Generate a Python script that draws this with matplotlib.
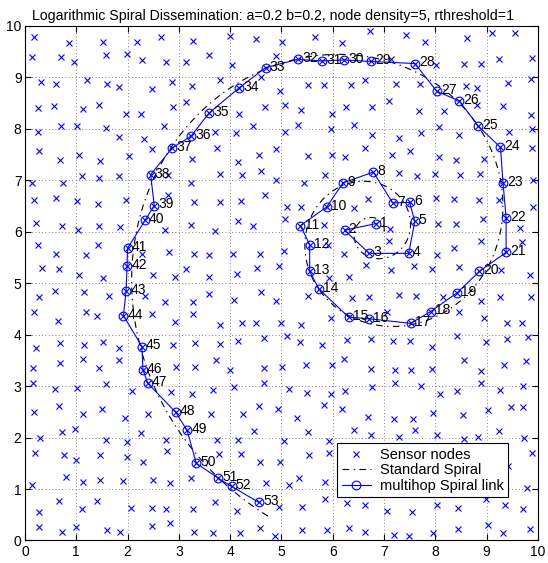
import numpy as np
import matplotlib
matplotlib.use("Agg")
import matplotlib.pyplot as plt

plt.rcParams['font.family'] = ['Liberation Sans', 'DejaVu Sans']

# Parametros de la espiral
a = 0.2
b = 0.2
centro = (6.8, 6.0)
theta_fin = 16.93

# Nodos sensores (x, y)
sensores = np.array([
    (0.17, 9.79), (0.85, 9.66), (1.53, 9.68), (2.19, 9.69), (2.65, 9.78), (3.27, 9.71),
    (0.13, 9.39), (0.71, 9.40), (0.95, 9.29), (1.57, 9.43), (1.98, 9.45), (2.29, 9.34), (2.74, 9.29), (3.14, 9.29),
    (0.32, 8.92), (0.61, 8.88), (1.21, 8.95), (1.60, 8.87), (1.84, 8.82), (2.48, 8.77), (2.86, 8.92), (3.26, 8.83),
    (0.26, 8.41), (0.56, 8.45), (1.13, 8.38), (1.44, 8.46), (1.97, 8.28), (2.27, 8.28), (2.88, 8.42), (3.14, 8.53),
    (0.26, 7.94), (0.71, 8.05), (1.02, 8.06), (1.58, 8.01), (1.84, 7.84), (2.32, 7.81), (2.71, 8.06),
    (0.28, 7.56), (0.68, 7.40), (1.05, 7.50), (1.47, 7.37), (2.02, 7.47), (2.47, 7.60), (3.26, 7.42),
    (0.13, 6.94), (0.74, 6.95), (1.12, 7.08), (1.45, 7.05), (1.83, 7.08), (3.24, 6.95), (2.79, 7.10),
    (4.00, 9.81), (4.50, 9.74), (5.01, 9.68), (5.66, 9.79), (6.19, 9.66), (6.72, 9.91),
    (3.58, 9.44), (4.03, 9.25), (4.90, 9.42),
    (3.80, 8.94), (4.60, 9.01), (5.51, 8.86), (5.82, 8.86), (6.35, 8.86), (6.62, 8.95), (4.97, 8.74),
    (4.68, 8.42), (5.06, 8.46), (5.38, 8.36), (5.99, 8.29), (6.26, 8.43), (6.77, 8.42), (4.18, 8.29),
    (4.44, 8.06), (5.32, 8.08), (5.07, 7.94), (5.96, 7.99), (6.42, 8.07), (3.71, 7.93), (4.11, 7.91),
    (3.75, 7.62), (4.90, 7.60), (4.56, 7.49), (5.51, 7.47), (5.99, 7.49), (6.23, 7.45), (6.62, 7.62), (6.77, 7.88),
    (4.16, 7.36), (3.80, 7.13), (4.23, 7.11), (4.60, 7.18), (4.89, 7.00), (5.44, 6.95), (5.85, 7.10), (4.68, 6.72),
    (7.42, 9.82), (7.79, 9.68), (8.61, 9.76), (9.11, 9.87), (9.55, 9.87), (9.89, 9.37), (9.24, 9.36),
    (8.55, 9.27), (8.90, 9.27), (8.02, 9.25), (7.14, 9.35),
    (7.24, 8.88), (7.71, 8.88), (9.42, 8.90), (9.87, 8.96), (8.59, 8.84), (8.82, 8.80),
    (7.10, 8.54), (7.69, 8.34), (8.17, 8.34), (8.81, 8.46), (9.31, 8.44), (9.87, 8.27),
    (8.07, 8.03), (7.29, 7.82), (7.73, 7.91), (8.47, 7.88), (9.44, 7.94), (9.89, 7.99),
    (9.89, 7.63), (7.50, 7.57), (7.16, 7.49), (8.07, 7.45), (8.40, 7.40), (8.95, 7.42),
    (7.29, 7.15), (7.64, 7.08), (7.99, 7.13), (8.49, 7.10), (8.88, 7.12), (9.91, 7.00),
    (0.17, 6.61), (0.60, 6.66), (1.02, 6.59), (1.42, 6.53), (1.97, 6.61), (2.79, 6.71), (3.30, 6.58),
    (0.21, 6.18), (0.72, 6.11), (1.03, 6.03), (1.45, 6.11), (1.86, 6.09), (2.73, 6.04), (3.23, 6.14),
    (0.26, 5.75), (0.61, 5.57), (1.19, 5.54), (1.42, 5.75), (2.29, 5.57), (2.81, 5.60), (3.29, 5.57),
    (0.34, 5.29), (0.66, 5.28), (1.05, 5.15), (1.52, 5.10), (2.50, 5.16), (2.92, 5.12), (3.14, 5.27),
    (0.27, 4.74), (0.58, 4.84), (1.16, 4.82), (1.63, 4.75), (2.34, 4.76), (2.73, 4.63), (3.28, 4.64),
    (3.28, 4.40), (0.17, 4.44), (0.65, 4.27), (1.19, 4.44), (1.41, 4.36), (2.48, 4.40), (2.92, 4.24),
    (0.21, 3.75), (0.69, 3.83), (1.15, 3.80), (1.53, 3.85), (1.83, 3.75), (2.88, 3.79), (3.31, 3.83),
    (0.16, 3.35), (0.68, 3.45), (1.13, 3.53), (1.44, 3.35), (1.83, 3.51), (2.94, 3.38), (3.32, 3.38),
    (3.80, 6.58), (4.21, 6.59), (5.10, 6.48), (5.07, 6.24), (4.16, 6.20), (4.44, 6.12), (5.83, 6.14), (6.42, 6.46),
    (3.71, 6.01), (3.58, 5.55), (4.05, 5.57), (4.58, 5.57), (5.04, 5.62), (5.90, 5.75), (6.21, 5.57), (6.64, 5.36),
    (4.14, 5.18), (4.52, 5.30), (4.95, 5.34), (3.59, 5.12), (5.92, 5.10), (6.32, 5.13), (5.38, 6.49),
    (3.58, 4.79), (4.08, 4.68), (4.60, 4.82), (4.90, 4.65), (5.51, 4.76), (6.38, 4.71), (6.71, 4.74),
    (5.96, 4.32), (3.80, 4.19), (4.24, 4.23), (4.51, 4.23), (5.00, 4.23), (5.38, 4.19), (5.10, 3.98),
    (3.81, 3.82), (4.16, 3.87), (4.66, 3.94), (5.36, 3.85), (5.79, 3.80), (6.27, 3.90), (6.74, 3.92),
    (3.72, 3.51), (4.00, 3.31), (4.65, 3.36), (5.02, 3.38), (5.47, 3.41), (5.99, 3.41), (6.21, 3.53), (6.74, 3.33),
    (6.69, 6.64), (7.11, 6.05), (7.10, 5.83), (7.58, 5.34), (7.94, 5.28),
    (8.01, 6.66), (8.36, 6.63), (8.85, 6.61), (9.24, 6.61), (9.91, 6.48),
    (8.41, 6.16), (8.92, 6.24), (9.65, 6.08), (8.05, 6.16),
    (8.36, 5.68), (8.90, 5.83), (9.68, 5.80), (8.03, 5.54),
    (7.13, 5.26), (8.47, 5.31), (9.29, 5.26), (9.84, 5.16),
    (7.29, 4.77), (7.62, 4.76), (8.15, 4.74), (8.47, 4.44), (8.90, 4.66), (9.27, 4.73), (9.87, 4.73),
    (7.06, 4.44), (8.95, 4.32), (9.39, 4.22), (9.68, 4.22),
    (7.18, 3.87), (7.50, 3.87), (7.94, 3.77), (8.43, 3.97), (8.98, 3.85), (9.40, 3.92), (9.81, 3.96),
    (7.21, 3.31), (7.52, 3.32), (7.94, 3.34), (8.56, 3.51), (8.90, 3.30), (9.34, 3.42), (9.76, 3.48),
    (0.16, 3.06), (0.58, 2.95), (1.02, 2.97), (1.58, 3.05), (2.08, 2.90), (2.84, 2.88), (3.26, 2.84),
    (0.17, 2.49), (0.66, 2.62), (1.14, 2.45), (1.50, 2.55), (1.95, 2.38), (2.40, 2.46),
    (0.72, 2.10), (0.97, 2.17), (0.29, 1.99), (1.58, 1.96), (1.99, 1.91), (2.26, 2.09), (2.74, 1.95),
    (0.19, 1.70), (0.76, 1.67), (0.99, 1.57), (1.47, 1.66), (1.99, 1.63), (2.31, 1.52), (2.76, 1.73),
    (0.13, 1.08), (0.79, 1.23), (1.13, 1.14), (1.47, 1.18), (1.92, 1.16), (2.50, 1.18), (2.83, 1.12), (3.23, 1.21),
    (0.66, 0.77), (1.12, 0.62), (1.41, 0.77), (2.06, 0.64), (2.48, 0.63), (2.75, 0.61), (3.28, 0.62),
    (0.28, 0.55), (0.27, 0.27), (0.73, 0.16), (1.00, 0.27), (1.60, 0.20), (1.86, 0.16), (2.48, 0.29), (2.82, 0.34), (3.29, 0.17),
    (3.67, 2.92), (4.08, 2.98), (4.65, 3.06), (5.14, 2.94), (5.49, 2.86), (5.96, 2.85), (6.24, 2.90), (6.77, 2.99),
    (3.62, 2.46), (4.25, 2.45), (4.56, 2.62), (4.94, 2.55), (5.31, 2.38), (5.83, 2.64), (6.18, 2.56), (6.68, 2.40),
    (4.47, 2.12), (5.52, 2.10), (6.42, 2.14), (6.75, 2.05),
    (3.75, 1.95), (4.16, 1.95), (5.05, 1.93), (5.93, 1.93),
    (3.79, 1.69), (4.21, 1.69), (5.53, 1.66), (5.93, 1.70),
    (4.58, 1.52), (4.97, 1.52),
    (4.69, 1.11), (5.14, 1.08), (5.34, 1.21), (5.85, 1.13),
    (3.71, 0.74), (4.13, 0.58), (4.95, 0.66), (5.41, 0.66), (5.85, 0.81), (6.27, 0.72), (6.62, 0.68),
    (3.67, 0.14), (4.19, 0.14), (4.58, 0.25), (4.88, 0.09), (5.40, 0.20), (5.88, 0.21), (6.32, 0.25), (6.62, 0.17),
    (7.21, 3.06), (7.73, 3.01), (8.10, 2.85), (8.43, 2.90), (8.90, 3.06), (9.27, 2.93), (9.71, 3.00),
    (7.19, 2.36), (7.57, 2.36), (7.96, 2.47), (8.54, 2.44), (9.03, 2.53), (9.47, 2.59), (9.71, 2.59),
    (7.29, 2.02), (7.60, 2.14), (8.04, 2.05), (8.56, 1.97), (8.83, 2.02), (9.25, 2.12), (9.73, 1.99),
    (9.89, 1.70), (9.42, 1.45), (9.79, 1.02),
    (7.06, 0.58), (7.54, 0.56), (8.04, 0.69), (8.45, 0.64), (8.99, 0.81), (9.36, 0.69), (9.71, 0.61),
    (7.19, 0.10), (7.49, 0.09), (7.96, 0.14), (8.44, 0.22), (9.03, 0.31), (9.32, 0.14), (9.84, 0.22),
])

# Nodos del enlace multihop, en orden 1..53
nodo_x = [6.85, 6.23, 6.71, 7.48, 7.60, 7.50, 7.17, 6.79, 6.20, 5.88,
          5.37, 5.55, 5.55, 5.73, 6.31, 6.70, 7.52, 7.91, 8.42, 8.86,
          9.38, 9.38, 9.32, 9.27, 8.84, 8.47, 8.03, 7.60, 6.74, 6.22,
          5.79, 5.32, 4.69, 4.18, 3.59, 3.24, 2.87, 2.45, 2.52, 2.34,
          2.00, 1.99, 1.97, 1.92, 2.28, 2.30, 2.39, 2.94, 3.16, 3.34,
          3.77, 4.03, 4.56]
nodo_y = [6.16, 6.03, 5.58, 5.58, 6.20, 6.57, 6.56, 7.16, 6.95, 6.48,
          6.12, 5.75, 5.23, 4.89, 4.34, 4.31, 4.22, 4.45, 4.81, 5.23,
          5.60, 6.27, 6.95, 7.64, 8.05, 8.54, 8.73, 9.27, 9.31, 9.34,
          9.32, 9.35, 9.19, 8.80, 8.31, 7.86, 7.63, 7.11, 6.51, 6.22,
          5.68, 5.33, 4.84, 4.37, 3.77, 3.32, 3.06, 2.49, 2.14, 1.50,
          1.21, 1.05, 0.74]

# Espiral logaritmica r = a*exp(b*theta)
theta = np.linspace(0, theta_fin, 800)
r = a * np.exp(b * theta)
esp_x = centro[0] + r * np.cos(theta)
esp_y = centro[1] + r * np.sin(theta)

fig = plt.figure(figsize=(5.48, 5.63), dpi=100)
ax = fig.add_axes([0.0456, 0.040, 0.936, 0.9139])

todos_x = np.concatenate([sensores[:, 0], nodo_x])
todos_y = np.concatenate([sensores[:, 1], nodo_y])
ax.plot(todos_x, todos_y, 'x', color='b', markersize=4.3, markeredgewidth=0.8,
        label='Sensor nodes', zorder=2)
ax.plot(esp_x, esp_y, color='k', linewidth=0.8, dashes=[6, 4, 1.2, 4],
        label='Standard Spiral', zorder=3)
ax.plot(nodo_x, nodo_y, '-o', color='b', linewidth=0.8, markersize=6.3,
        markerfacecolor='none', markeredgewidth=0.8, label='multihop Spiral link', zorder=4)

for i in range(len(nodo_x)):
    ax.text(nodo_x[i] + 0.08, nodo_y[i] + 0.02, str(i + 1), fontsize=10,
            ha='left', va='center', zorder=5)

ax.set_xlim(0, 10)
ax.set_ylim(0, 10)
ax.set_xticks(range(11))
ax.set_yticks(range(11))
ax.tick_params(direction='in', top=True, right=True, length=4, width=0.8, labelsize=10)
ax.tick_params(axis='y', pad=2.5)
ax.grid(True, color='0.35', linestyle=(0, (1, 3)), linewidth=0.6)
for s in ax.spines.values():
    s.set_linewidth(0.8)

ax.set_title('Logarithmic Spiral Dissemination: a=0.2 b=0.2, node density=5, rthreshold=1',
             fontsize=10.2, pad=4, x=0.484)

leg = ax.legend(loc='lower right', bbox_to_anchor=(0.9415, 0.0845), borderaxespad=0,
                fontsize=10.5, fancybox=False, framealpha=1, edgecolor='k',
                handlelength=2.0, handletextpad=0.6, labelspacing=0.1, borderpad=0.3,
                numpoints=1)
leg.get_frame().set_linewidth(0.8)

fig.savefig('out.png', dpi=100)
